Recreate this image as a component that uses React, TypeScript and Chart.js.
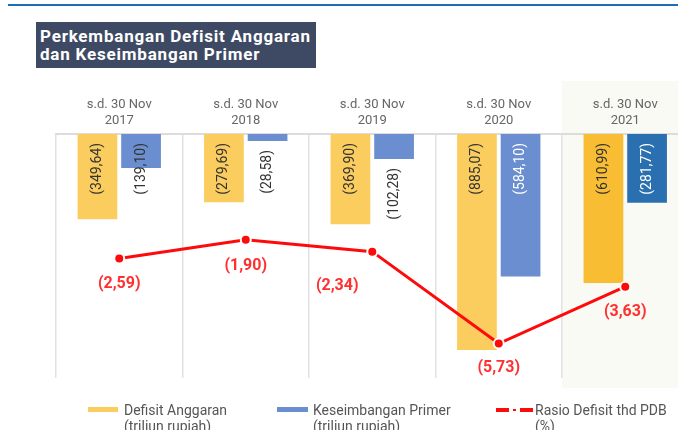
import React, { useEffect, useRef } from "react";
import { Chart, registerables } from "chart.js";

Chart.register(...registerables);

const categories = ["2017", "2018", "2019", "2020", "2021"];
const categoryPrefix = "s.d. 30 Nov";
const defisitAnggaran = [349.64, 279.69, 369.9, 885.07, 610.99];
const keseimbanganPrimer = [139.1, 28.58, 102.28, 584.1, 281.77];
const rasioDefisit = [2.59, 1.9, 2.34, 5.73, 3.63];

const yellowColors = ["#fbcd5e", "#fbcd5e", "#fbcd5e", "#fbcd5e", "#f8bd33"];
const blueColors = ["#6a8ecf", "#6a8ecf", "#6a8ecf", "#6a8ecf", "#2a70b0"];

const fmt = (v: number) => "(" + v.toFixed(2).replace(".", ",") + ")";

const LINE_LABEL_OFFSETS: [number, number][] = [
  [0, 26],
  [0, 26],
  [-35, 34],
  [0, 24],
  [0, 25],
];

const shadePlugin = {
  id: "shade",
  beforeDraw(chart: any) {
    const { ctx, scales } = chart;
    const x = scales.x;
    const left = (x.getPixelForValue(3) + x.getPixelForValue(4)) / 2;
    ctx.save();
    ctx.fillStyle = "#f8faf3";
    ctx.fillRect(left, 81, chart.width - left, 388 - 81);
    ctx.restore();
  },
};

const labelPlugin = {
  id: "labels",
  afterDatasetsDraw(chart: any) {
    const { ctx } = chart;
    ctx.save();
    [0, 1].forEach((di) => {
      const meta = chart.getDatasetMeta(di);
      const data = chart.data.datasets[di].data as number[];
      meta.data.forEach((bar: any, i: number) => {
        const top = Math.min(bar.base, bar.y);
        const bottom = Math.max(bar.base, bar.y);
        const h = bottom - top;
        const text = fmt(data[i]);
        ctx.font = "14px Roboto";
        const tw = ctx.measureText(text).width;
        let start: number;
        let color = "#333333";
        if (h > 30) {
          start = top + 9;
          if (di === 1 && h > tw + 12) color = "#ffffff";
        } else {
          start = bottom + 9;
        }
        ctx.save();
        ctx.translate(bar.x, start);
        ctx.rotate(-Math.PI / 2);
        ctx.textAlign = "right";
        ctx.textBaseline = "middle";
        ctx.fillStyle = color;
        ctx.fillText(text, 0, 0);
        ctx.restore();
      });
    });
    const lmeta = chart.getDatasetMeta(2);
    lmeta.data.forEach((pt: any, i: number) => {
      const [dx, dy] = LINE_LABEL_OFFSETS[i];
      ctx.font = "bold 16px Roboto";
      ctx.fillStyle = "#ff3030";
      ctx.textAlign = "center";
      ctx.textBaseline = "middle";
      ctx.fillText(fmt(rasioDefisit[i]), pt.x + dx, pt.y + dy);
    });
    ctx.restore();
  },
};

export default function App() {
  const ref = useRef<HTMLCanvasElement | null>(null);

  useEffect(() => {
    if (!ref.current) return;
    Chart.defaults.font.family = "Roboto";
    const chart = new Chart(ref.current, {
      type: "bar",
      data: {
        labels: categories.map((c) => [categoryPrefix, c]),
        datasets: [
          {
            label: "Defisit Anggaran",
            data: defisitAnggaran,
            backgroundColor: yellowColors,
            yAxisID: "y",
            order: 1,
            categoryPercentage: 0.69,
            barPercentage: 0.91,
          } as any,
          {
            label: "Keseimbangan Primer",
            data: keseimbanganPrimer,
            backgroundColor: blueColors,
            yAxisID: "y",
            order: 1,
            categoryPercentage: 0.69,
            barPercentage: 0.91,
          } as any,
          {
            type: "line",
            label: "Rasio Defisit thd PDB",
            data: rasioDefisit,
            borderColor: "#ff0a0a",
            backgroundColor: "#ff0a0a",
            borderWidth: 3,
            pointRadius: 5,
            pointBorderColor: "#ffffff",
            pointBorderWidth: 2,
            pointBackgroundColor: "#ff0a0a",
            yAxisID: "y1",
            order: 0,
            tension: 0,
          } as any,
        ],
      },
      options: {
        animation: false,
        responsive: false,
        maintainAspectRatio: false,
        layout: { padding: { left: 56, right: 11.5, top: 92, bottom: 52 } },
        plugins: {
          legend: { display: false },
          tooltip: { enabled: false },
        },
        scales: {
          x: {
            position: "top",
            offset: true,
            grid: {
              offset: true,
              color: "#e2e2e2",
              lineWidth: 1.5,
              drawTicks: false,
            },
            border: { display: true, color: "#dcdcdc", width: 2 },
            ticks: {
              color: "#666666",
              font: { size: 13, family: "Roboto", lineHeight: 1.23 },
              padding: 5,
              maxRotation: 0,
              autoSkip: false,
            },
          },
          y: { display: false, reverse: true, min: 0, max: 1000 },
          y1: { display: false, reverse: true, min: -2, max: 7 },
        },
      },
      plugins: [shadePlugin, labelPlugin],
    });
    return () => chart.destroy();
  }, []);

  const legendText: React.CSSProperties = {
    position: "absolute",
    font: "14px Roboto",
    color: "#555",
    lineHeight: "16px",
    whiteSpace: "nowrap",
  };

  return (
    <div
      style={{
        position: "absolute",
        left: 0,
        top: 0,
        width: 678,
        height: 430,
        overflow: "hidden",
        background: "#fff",
      }}
    >
      <canvas ref={ref} width={700} height={430} style={{ position: "absolute", left: 0, top: 0, width: 700, height: 430 }} />
      <div style={{ position: "absolute", left: 8, top: 4, width: 670, height: 2, background: "#1f6fb0" }} />
      <div
        style={{
          position: "absolute",
          left: 36,
          top: 22,
          width: 280,
          height: 46,
          background: "#3e4a64",
          color: "#fff",
          font: "bold 17px Roboto",
          letterSpacing: "0.8px",
          lineHeight: "18px",
          padding: "5px 0 0 4px",
          boxSizing: "border-box",
          whiteSpace: "nowrap",
        }}
      >
        Perkembangan Defisit Anggaran
        <br />
        dan Keseimbangan Primer
      </div>
      <div style={{ position: "absolute", left: 88, top: 407, width: 30, height: 5, background: "#fbcd5e" }} />
      <div style={{ ...legendText, left: 124, top: 402 }}>
        Defisit Anggaran
        <br />
        (triliun rupiah)
      </div>
      <div style={{ position: "absolute", left: 277, top: 407, width: 31, height: 5, background: "#6a8ecf" }} />
      <div style={{ ...legendText, left: 313, top: 402 }}>
        Keseimbangan Primer
        <br />
        (triliun rupiah)
      </div>
      <div style={{ position: "absolute", left: 496, top: 408, width: 13, height: 4, background: "#ff0a0a" }} />
      <div style={{ position: "absolute", left: 513, top: 409, width: 3, height: 2, background: "#ff0a0a" }} />
      <div style={{ position: "absolute", left: 520, top: 408, width: 13, height: 4, background: "#ff0a0a" }} />
      <div style={{ ...legendText, left: 535, top: 402 }}>
        Rasio Defisit thd PDB
        <br />
        (%)
      </div>
    </div>
  );
}
